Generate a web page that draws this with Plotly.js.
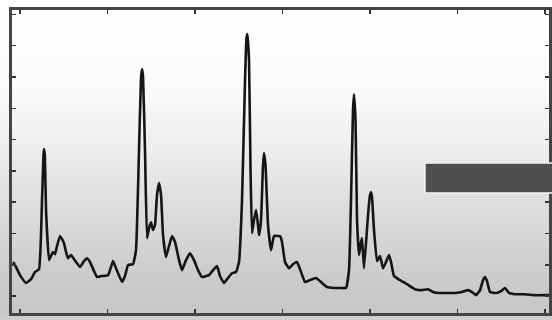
<!DOCTYPE html>
<html>
<head>
<meta charset="utf-8">
<script src="https://cdn.plot.ly/plotly-3.0.1.min.js"></script>
<style>
  html, body { margin: 0; padding: 0; }
  body {
    width: 552px; height: 320px; overflow: hidden;
    background: linear-gradient(to bottom, #ffffff 0px, #fbfbfb 85px, #ededed 150px, #dcdcdc 210px, #cdcdcd 270px, #c7c7c7 310px, #cfcfcf 320px);
  }
  #chart { width: 552px; height: 320px; }
</style>
</head>
<body>
<div id="chart"></div>
<script>
// retention time (arbitrary units, ticks every 25)
const time = [
  -2.0, -1.43, 0, 1.71, 3.14, 4.29, 5.43, 6.29, 6.71, 6.86, 7.09, 7.43, 8.29, 8.86, 9.43, 10, 10.57, 11.43, 12, 12.57,
  13.14, 13.71, 14.57, 15.43, 17.14, 18.29, 19.14, 20, 22, 23.43, 25.14, 26, 26.57, 27.43, 29.14, 30, 30.86, 32.29, 33.14, 34,
  34.57, 34.86, 35.14, 35.71, 36.29, 36.86, 37.43, 38, 38.57, 39.14, 39.71, 40.29, 40.86, 41.71, 42.57, 43.43, 44.29, 45.43, 46.29, 47.43,
  48.57, 49.71, 50.86, 52, 53.14, 54, 55.14, 56.29, 57.14, 58.29, 59.43, 60.57, 61.71, 62.57, 63.43, 64.29, 64.71, 65, 65.43, 65.86,
  66.29, 66.86, 67.43, 68, 68.29, 68.86, 69.43, 69.71, 70.14, 70.86, 71.71, 72.57, 73.43, 74.29, 74.86, 75.71, 76.86, 78, 79.14, 80.29,
  81.43, 82.86, 84.57, 86.29, 87.71, 89.71, 91.43, 93.14, 94, 94.57, 95.14, 95.43, 95.86, 96.29, 96.86, 97.43, 97.71, 98.29, 99.43, 100,
  100.29, 100.57, 101.14, 102, 102.86, 103.71, 104.57, 105.43, 106, 106.86, 108.57, 110.57, 112.86, 114.86, 116.57, 118, 119.43, 121.71, 124.29, 126.29,
  128, 129.14, 130.29, 131.43, 132.29, 132.86, 133.43, 134.29, 136, 137.43, 138.57, 139.71, 141.43, 144.29, 147.14, 150, 151.14
];
// detector signal (arbitrary units, ticks every 10)
const signal = [
  10.9, 9.9, 6.7, 4.2, 5.4, 7.7, 8.6, 30.7, 45.0, 47.0, 45.0, 27.5, 11.5, 12.8, 14.1, 13.4, 16.0, 19.2, 18.2, 16.9,
  14.1, 12.1, 13.1, 11.8, 9.3, 11.2, 12.1, 10.9, 6.1, 6.4, 6.7, 9.3, 11.2, 8.9, 4.5, 6.4, 9.9, 10.2, 14.7, 46.6,
  69.6, 72.5, 70.3, 46.6, 18.5, 21.7, 23.6, 21.1, 22.7, 32.3, 36.1, 32.3, 19.5, 12.5, 16.0, 19.2, 17.3, 11.5, 8.3, 11.5,
  13.7, 11.5, 8.3, 6.1, 6.4, 6.7, 8.3, 9.6, 6.4, 4.2, 5.8, 7.3, 7.7, 10.9, 30.7, 69.0, 82.4, 83.7, 75.4, 40.3,
  20.1, 24.3, 27.5, 22.7, 19.5, 24.3, 41.9, 45.7, 41.9, 22.7, 14.7, 19.2, 19.2, 19.2, 17.3, 10.9, 8.9, 10.2, 10.9, 7.7,
  4.5, 5.1, 5.8, 4.2, 2.9, 2.6, 2.6, 2.6, 8.3, 30.7, 59.4, 64.5, 56.2, 24.3, 13.1, 17.3, 18.5, 8.9, 25.9, 32.3,
  33.2, 31.6, 21.1, 11.2, 12.8, 8.9, 10.9, 13.1, 10.9, 6.4, 5.1, 3.8, 2.2, 1.9, 2.2, 1.3, 1.0, 1.0, 1.0, 1.3,
  1.9, 1.3, 0.3, 1.9, 5.1, 6.1, 4.8, 1.3, 1.0, 1.6, 2.6, 1.0, 0.6, 0.6, 0.3, 0.3, 0.3
];

const trace = {
  x: time, y: signal, type: 'scatter', mode: 'lines',
  line: { color: '#151515', width: 2.6, shape: 'spline', smoothing: 0.35 },
  hoverinfo: 'skip', showlegend: false
};

const axisCommon = {
  showgrid: false, zeroline: false, showticklabels: false,
  ticks: 'inside', ticklen: 4, tickwidth: 1.5, tickcolor: '#333',
  showline: true, linewidth: 3, linecolor: '#444', mirror: 'ticks'
};

const layout = {
  width: 552, height: 320,
  margin: { l: 12, r: 3, t: 10, b: 7 },
  paper_bgcolor: 'rgba(0,0,0,0)',
  plot_bgcolor: 'rgba(0,0,0,0)',
  xaxis: Object.assign({}, axisCommon, { range: [-2.29, 151.14], tick0: 0, dtick: 25 }),
  yaxis: Object.assign({}, axisCommon, { range: [-5.4, 91.4], tick0: 0, dtick: 10 }),
  shapes: [{
    type: 'rect', xref: 'paper', yref: 'paper',
    x0: 0.769, x1: 1.01, y0: 0.396, y1: 0.495,
    fillcolor: '#4e4e4e', line: { color: '#f4f4f4', width: 1.5 }, layer: 'above'
  }]
};

Plotly.newPlot('chart', [trace], layout, { staticPlot: true, displayModeBar: false });
</script>
</body>
</html>
